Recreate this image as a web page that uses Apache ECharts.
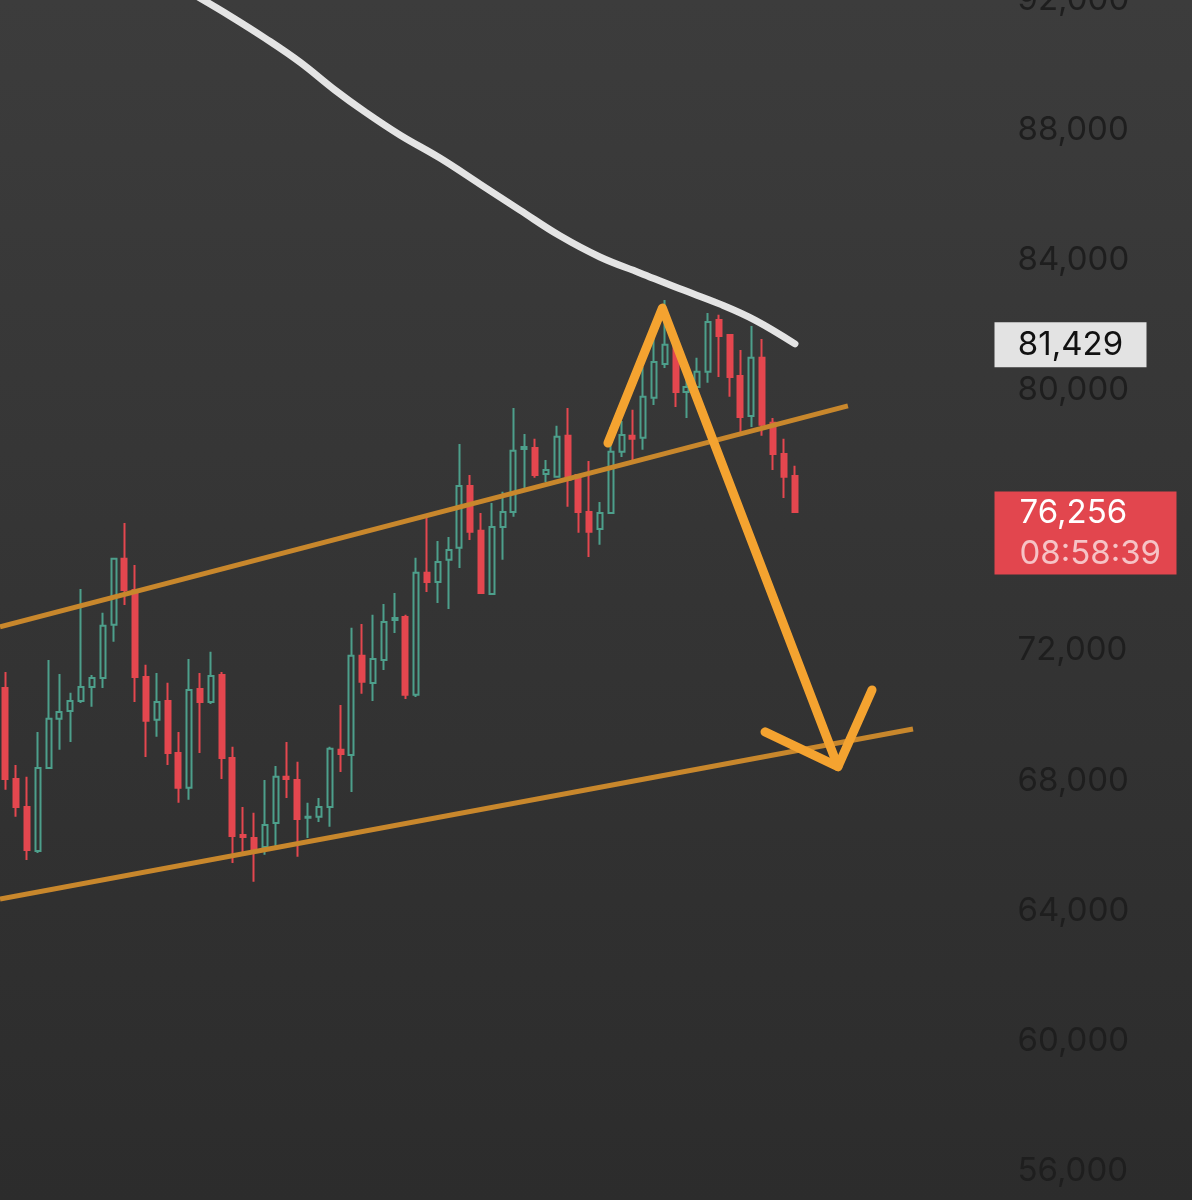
<!DOCTYPE html>
<html>
<head>
<meta charset="utf-8">
<script src="https://cdn.jsdelivr.net/npm/echarts@6/dist/echarts.min.js"></script>
<style>
html,body{margin:0;padding:0;background:#333;}
#c{width:1192px;height:1200px;}
</style>
</head>
<body>
<div id="c"></div>
<script>
// ---- Candle data (price) ----
const opens = [70850,68050,67190,65840,68390,69900,70140,70450,70880,71160,
  72790,74820,73860,71190,69870,70450,68850,67780,70820,70420,
  71250,68700,66330,66240,65960,66700,68120,68020,66860,66890,
  67190,68950,68790,71840,71000,71710,72940,73030,70640,74390,
  74110,74790,75160,77060,75680,73740,75800,76260,78200,78230,
  77430,77340,78600,77400,76260,75740,76230,78110,78600,78540,
  79770,80810,81400,79950,80100,80570,82160,81700,80440,79210,
  81000,79000,78040,77370];
const closes = [68050,67190,65870,68390,69900,70110,70450,70880,71160,72760,
  74820,73860,71190,69840,70420,68850,67780,70790,70420,71220,
  68700,66300,66270,65810,66640,68120,68050,66820,66890,67190,
  68980,68820,71840,71040,71740,72880,73000,70640,74390,74110,
  74720,75090,77060,75650,73770,75800,76260,78140,78260,77400,
  77550,78570,77250,76260,75650,76230,78110,78630,78510,79800,
  80870,81400,79950,80100,80570,82100,81670,80410,79180,81000,
  78940,78040,77340,76256];
const lows = [67720,66890,65560,65780,68360,68950,69190,70390,70270,70850,
  72270,73400,70420,68730,69350,68480,67320,67410,68850,70360,
  68050,65470,65810,64890,65720,65870,67470,65660,66240,66730,
  66580,68270,67650,70670,70450,71400,72540,70510,70570,73800,
  73460,73280,74540,75400,73740,73710,74790,76110,77000,77310,
  77180,77310,76420,75620,74880,75250,76200,77950,77770,78170,
  79550,80690,79490,79150,80010,80230,80410,79800,78720,78870,
  78600,77550,76690,76230];
const highs = [71340,68480,68120,69500,71710,71280,70700,73890,71250,73160,
  74850,75920,74630,71560,71310,71010,69500,71740,71310,71960,
  71340,69040,67190,67010,68020,68450,69190,68580,67320,67470,
  69040,70330,72700,72820,73100,73430,73770,73100,74850,76110,
  75370,75490,78350,77400,76230,76540,76880,79460,78660,78510,
  77860,78910,79460,77430,77830,76570,78870,79060,79400,80720,
  81760,82780,81640,80440,81000,82380,82320,81730,81240,81980,
  81580,79150,78510,77680];

// categories: one per candle, plus empty slots to the right (future space)
const candleLabels = opens.map((_, i) => 'S' + (i + 1));
const futureSlots = 18;
const categories = candleLabels.concat(new Array(futureSlots).fill(''));

// y axis ticks
const yMin = 56000, yMax = 92000, yStep = 4000;

// drawn annotations: [candle index position, price]
const upperChannel = [[-0.5, 72730], [77.94, 79520]];
const lowerChannel = [[-0.5, 64360], [83.96, 69590]];
const maCurve = [[17.54,92150],[20.78,91510],[24.01,90830],[27.25,90090],[30.49,89230],
  [33.27,88560],[36.50,87850],[40.20,87140],[43.90,86340],[47.60,85540],[51.30,84750],
  [55.00,84100],[58.70,83610],[62.40,83120],[66.11,82650],[69.34,82160],[73.04,81429]];
const arrowPath = [[55.74,78380],[60.78,82530],[77.02,68430]];
const arrowHead = [[70.27,69500],[77.02,68430],[80.17,70790]];

const maLast = 81429;
const lastClose = closes[closes.length - 1];
const countdown = '08:58:39';

const fmt = v => Math.round(v).toLocaleString('en-US');
const candleData = opens.map((o, i) => [o, closes[i], lows[i], highs[i]]);
const xEnd = categories.length - 0.5;

const chart = echarts.init(document.getElementById('c'), null, {renderer: 'canvas'});
chart.setOption({
  animation: false,
  backgroundColor: {
    type: 'linear', x: 0, y: 0, x2: 0, y2: 1,
    colorStops: [{offset: 0, color: '#3c3c3c'}, {offset: 1, color: '#2c2c2c'}]
  },
  grid: {left: 0, top: 0, width: 994.5, height: 1171, containLabel: false, outerBoundsMode: 'none'},
  xAxis: [
    {type: 'category', data: categories, show: false, boundaryGap: true},
    {type: 'value', min: -0.5, max: xEnd, show: false}
  ],
  yAxis: {
    type: 'value', position: 'right', min: yMin, max: yMax, interval: yStep,
    axisLine: {show: false}, axisTick: {show: false}, splitLine: {show: false},
    axisLabel: {margin: 23, color: '#1e1e1e', fontSize: 33, fontFamily: 'Inter', formatter: v => fmt(v)}
  },
  series: [
    {
      type: 'candlestick', xAxisIndex: 0, data: candleData, barWidth: 5.5, z: 2,
      itemStyle: {color: 'rgba(0,0,0,0)', color0: '#e4474f', borderColor: '#4d9f8b', borderColor0: '#e4474f', borderWidth: 2},
      emphasis: {disabled: true}, silent: true
    },
    {
      type: 'line', xAxisIndex: 1, data: upperChannel, symbol: 'none', z: 3, silent: true,
      lineStyle: {color: '#c8872c', width: 5}
    },
    {
      type: 'line', xAxisIndex: 1, data: lowerChannel, symbol: 'none', z: 3, silent: true,
      lineStyle: {color: '#c8872c', width: 5}
    },
    {
      type: 'line', xAxisIndex: 1, data: maCurve, symbol: 'none', smooth: 0.4, z: 4, silent: true,
      lineStyle: {color: '#e4e4e4', width: 7, cap: 'round', join: 'round'},
      markPoint: {
        silent: true, animation: false, symbol: 'rect',
        data: [
          {
            coord: [xEnd, maLast], symbolSize: [152, 45], symbolOffset: [76, 1],
            itemStyle: {color: '#e3e3e3'},
            label: {show: true, position: 'inside', formatter: fmt(maLast), color: '#111111', fontSize: 33, fontFamily: 'Inter'}
          },
          {
            coord: [xEnd, lastClose], symbolSize: [182, 83], symbolOffset: [91, 21],
            itemStyle: {color: '#e2464e'},
            label: {
              show: true, position: 'insideLeft', distance: 25,
              formatter: '{a|' + fmt(lastClose) + '}\n{b|' + countdown + '}',
              rich: {
                a: {color: '#ffffff', fontSize: 33, lineHeight: 41, fontFamily: 'Inter'},
                b: {color: '#f6c3c6', fontSize: 33, lineHeight: 41, fontFamily: 'Inter'}
              }
            }
          }
        ]
      }
    },
    {
      type: 'line', xAxisIndex: 1, data: arrowPath, symbol: 'none', z: 5, silent: true,
      lineStyle: {color: '#f4a330', width: 9, cap: 'round', join: 'round'}
    },
    {
      type: 'line', xAxisIndex: 1, data: arrowHead, symbol: 'none', z: 5, silent: true,
      lineStyle: {color: '#f4a330', width: 9, cap: 'round', join: 'round'}
    }
  ]
});
</script>
</body>
</html>
